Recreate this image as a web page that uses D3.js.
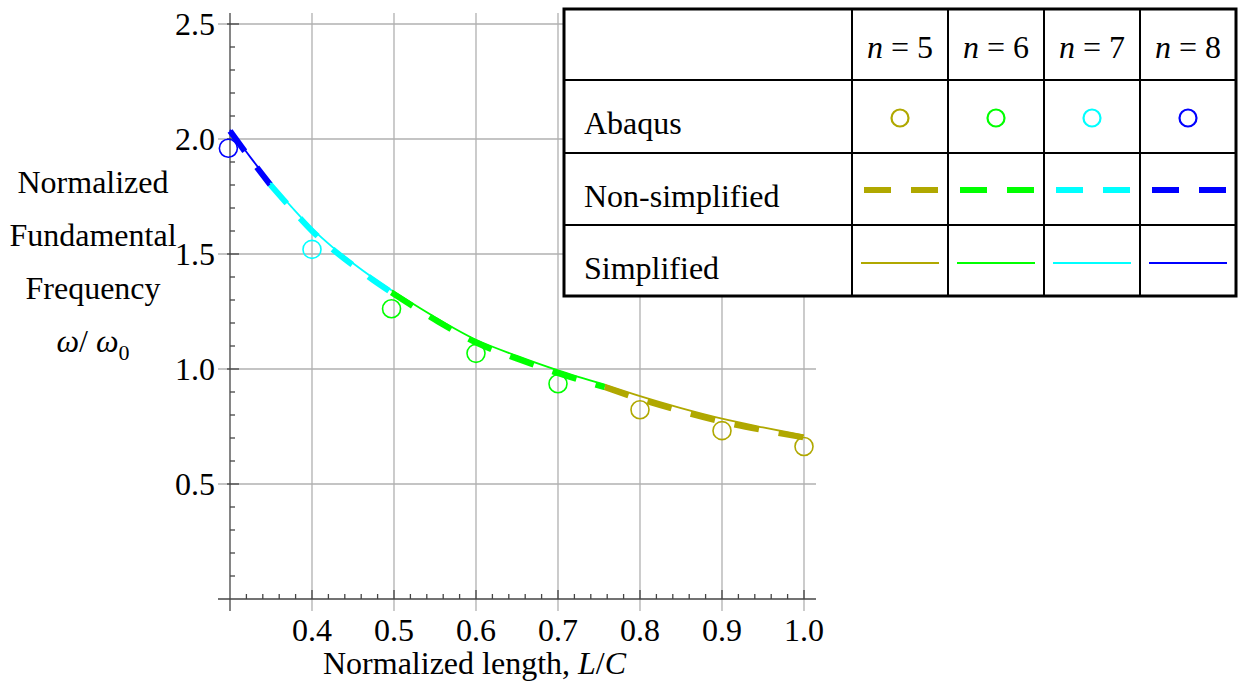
<!DOCTYPE html>
<html lang="en">
<head>
  <meta charset="UTF-8" />
  <title>Normalized fundamental frequency vs L/C</title>
  <script src="https://d3js.org/d3.v7.min.js"></script>
  <style>
    body { margin: 0; background: #fff; }
    svg { display: block; }
    text { font-family: "Liberation Serif", "Times New Roman", serif; fill: #000; }
  </style>
</head>
<body>
  <svg width="1241" height="691"></svg>
  <script>
    // ---- data ----
    const groups = ["n = 5", "n = 6", "n = 7", "n = 8"];
    const groupN = [5, 6, 7, 8];
    const colors = ["#b0a800", "#00ff00", "#00ffff", "#0000ff"];

    // simplified / non-simplified curves, one piece per n
    const lenN5 = [0.757, 0.80, 0.85, 0.90, 0.95, 1.00];
    const simpN5 = [0.932, 0.882, 0.830, 0.784, 0.746, 0.711];
    const nonSimpN5 = [0.921, 0.869, 0.817, 0.771, 0.734, 0.702];

    const lenN6 = [0.497, 0.55, 0.60, 0.65, 0.70, 0.757];
    const simpN6 = [1.342, 1.225, 1.127, 1.057, 0.994, 0.932];
    const nonSimpN6 = [1.333, 1.214, 1.115, 1.045, 0.982, 0.921];

    const lenN7 = [0.349, 0.375, 0.40, 0.425, 0.45, 0.475, 0.497];
    const simpN7 = [1.810, 1.705, 1.610, 1.530, 1.460, 1.395, 1.342];
    const nonSimpN7 = [1.802, 1.697, 1.601, 1.521, 1.451, 1.386, 1.333];

    const lenN8 = [0.300, 0.325, 0.349];
    const simpN8 = [2.040, 1.920, 1.810];
    const nonSimpN8 = [2.035, 1.913, 1.802];

    // Abaqus points
    const abaqusLen = [0.298, 0.40, 0.497, 0.60, 0.70, 0.80, 0.90, 1.00];
    const abaqusFreq = [1.960, 1.520, 1.262, 1.068, 0.936, 0.823, 0.732, 0.663];
    const abaqusN = [8, 7, 6, 6, 6, 5, 5, 5];

    const xMajor = [0.4, 0.5, 0.6, 0.7, 0.8, 0.9, 1.0];
    const xMajorLabels = ["0.4", "0.5", "0.6", "0.7", "0.8", "0.9", "1.0"];
    const yMajor = [0.5, 1.0, 1.5, 2.0, 2.5];
    const yMajorLabels = ["0.5", "1.0", "1.5", "2.0", "2.5"];

    const legendRows = ["Abaqus", "Non-simplified", "Simplified"];

    // ---- layout ----
    const svg = d3.select("svg");
    const fs = 32;
    const x = d3.scaleLinear().domain([0.3, 1.0]).range([230, 804]);
    const y = d3.scaleLinear().domain([0, 2.5]).range([599, 24]);
    const frameL = 218, frameR = 816, frameT = 13, frameB = 611;

    const pieces = [
      { n: 5, len: lenN5, simp: simpN5, non: nonSimpN5 },
      { n: 6, len: lenN6, simp: simpN6, non: nonSimpN6 },
      { n: 7, len: lenN7, simp: simpN7, non: nonSimpN7 },
      { n: 8, len: lenN8, simp: simpN8, non: nonSimpN8 }
    ];
    const colorOf = n => colors[groupN.indexOf(n)];

    // grid
    const grid = svg.append("g").attr("stroke", "#b0b0b0").attr("stroke-width", 1.3);
    grid.selectAll("line.gx").data(xMajor).enter().append("line")
      .attr("x1", d => x(d)).attr("x2", d => x(d))
      .attr("y1", frameT).attr("y2", frameB);
    grid.selectAll("line.gy").data(yMajor).enter().append("line")
      .attr("x1", frameL).attr("x2", frameR)
      .attr("y1", d => y(d)).attr("y2", d => y(d));

    // axes
    const ax = svg.append("g").attr("stroke", "#444").attr("stroke-width", 1.3);
    ax.append("line").attr("x1", x(0.3)).attr("x2", x(0.3)).attr("y1", frameT).attr("y2", frameB);
    ax.append("line").attr("x1", frameL).attr("x2", frameR).attr("y1", y(0)).attr("y2", y(0));

    const xMinor = d3.range(0.32, 1.001, 0.02).filter(v => Math.abs(v * 10 - Math.round(v * 10)) > 0.01);
    const yMinor = d3.range(0.1, 2.51, 0.1).filter(v => Math.abs(v * 2 - Math.round(v * 2)) > 0.01);
    ax.selectAll("line.xm").data(xMinor).enter().append("line")
      .attr("x1", d => x(d)).attr("x2", d => x(d)).attr("y1", y(0)).attr("y2", y(0) - 5);
    ax.selectAll("line.xM").data(xMajor).enter().append("line")
      .attr("x1", d => x(d)).attr("x2", d => x(d)).attr("y1", y(0)).attr("y2", y(0) - 9);
    ax.selectAll("line.ym").data(yMinor).enter().append("line")
      .attr("x1", x(0.3)).attr("x2", x(0.3) + 5).attr("y1", d => y(d)).attr("y2", d => y(d));
    ax.selectAll("line.yM").data(yMajor).enter().append("line")
      .attr("x1", x(0.3) - 3).attr("x2", x(0.3) + 9).attr("y1", d => y(d)).attr("y2", d => y(d));

    // tick labels
    svg.selectAll("text.xl").data(xMajor).enter().append("text")
      .attr("x", d => x(d)).attr("y", y(0) + 42)
      .attr("text-anchor", "middle").attr("font-size", fs)
      .text((d, i) => xMajorLabels[i]);
    svg.selectAll("text.yl").data(yMajor).enter().append("text")
      .attr("x", 215).attr("y", d => y(d) + 11)
      .attr("text-anchor", "end").attr("font-size", fs)
      .text((d, i) => yMajorLabels[i]);

    // axis titles
    const xt = svg.append("text").attr("x", 323).attr("y", 674).attr("font-size", fs);
    xt.append("tspan").text("Normalized length, ");
    xt.append("tspan").attr("font-style", "italic").text("L");
    xt.append("tspan").text("/");
    xt.append("tspan").attr("font-style", "italic").text("C");

    const yTitle = ["Normalized", "Fundamental", "Frequency"];
    svg.selectAll("text.yt").data(yTitle).enter().append("text")
      .attr("x", 93).attr("y", (d, i) => 193 + i * 53)
      .attr("text-anchor", "middle").attr("font-size", fs)
      .text(d => d);
    const om = svg.append("text").attr("x", 93).attr("y", 352)
      .attr("text-anchor", "middle").attr("font-size", fs);
    om.append("tspan").attr("font-style", "italic").text("ω");
    om.append("tspan").text("/ ");
    om.append("tspan").attr("font-style", "italic").text("ω");
    om.append("tspan").attr("font-size", 22).attr("dy", 8).text("0");

    // curves
    const line = d3.line().x(d => x(d[0])).y(d => y(d[1])).curve(d3.curveMonotoneX);
    const curves = svg.append("g").attr("fill", "none");
    pieces.forEach(p => {
      curves.append("path")
        .attr("d", line(p.len.map((v, i) => [v, p.non[i]])))
        .attr("stroke", colorOf(p.n)).attr("stroke-width", 6)
        .attr("stroke-dasharray", "25,20");
    });
    pieces.forEach(p => {
      curves.append("path")
        .attr("d", line(p.len.map((v, i) => [v, p.simp[i]])))
        .attr("stroke", colorOf(p.n)).attr("stroke-width", 1.8);
    });

    // Abaqus markers
    svg.append("g").selectAll("circle").data(abaqusLen).enter().append("circle")
      .attr("cx", d => x(d)).attr("cy", (d, i) => y(abaqusFreq[i])).attr("r", 9)
      .attr("fill", "none").attr("stroke-width", 1.6)
      .attr("stroke", (d, i) => colorOf(abaqusN[i]));

    // legend table
    const lg = svg.append("g");
    const tx = [564, 852, 948, 1044, 1140, 1236];
    const ty = [9, 80, 153, 225, 296];
    lg.append("rect").attr("x", tx[0]).attr("y", ty[0])
      .attr("width", tx[5] - tx[0]).attr("height", ty[4] - ty[0])
      .attr("fill", "#fff").attr("stroke", "#000").attr("stroke-width", 3);
    lg.selectAll("line.c").data(tx.slice(1, 5)).enter().append("line")
      .attr("x1", d => d).attr("x2", d => d).attr("y1", ty[0]).attr("y2", ty[4])
      .attr("stroke", "#000").attr("stroke-width", 2);
    lg.selectAll("line.r").data(ty.slice(1, 4)).enter().append("line")
      .attr("x1", tx[0]).attr("x2", tx[5]).attr("y1", d => d).attr("y2", d => d)
      .attr("stroke", "#000").attr("stroke-width", 2);

    groups.forEach((g, i) => {
      const cx = (tx[i + 1] + tx[i + 2]) / 2;
      const t = lg.append("text").attr("x", cx).attr("y", 58)
        .attr("text-anchor", "middle").attr("font-size", fs)
        .attr("xml:space", "preserve");
      t.append("tspan").attr("font-style", "italic").text(g.split(" ")[0]);
      t.append("tspan").text(" = " + g.split(" = ")[1]);

      const c = colors[i];
      lg.append("circle").attr("cx", cx).attr("cy", 118).attr("r", 8.5)
        .attr("fill", "none").attr("stroke", c).attr("stroke-width", 2.2);
      lg.append("line").attr("x1", cx - 36).attr("x2", cx + 38)
        .attr("y1", 190).attr("y2", 190)
        .attr("stroke", c).attr("stroke-width", 6).attr("stroke-dasharray", "27,20");
      lg.append("line").attr("x1", cx - 39).attr("x2", cx + 39)
        .attr("y1", 263).attr("y2", 263)
        .attr("stroke", c).attr("stroke-width", 2);
    });

    lg.selectAll("text.rl").data(legendRows).enter().append("text")
      .attr("x", 584).attr("y", (d, i) => ty[i + 1] + 54)
      .attr("font-size", fs).text(d => d);
  </script>
</body>
</html>
